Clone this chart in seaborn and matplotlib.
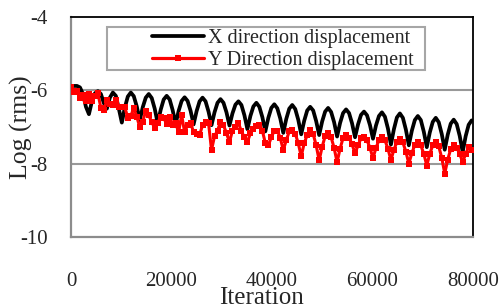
import numpy as np
import pandas as pd
import seaborn as sns
import matplotlib.pyplot as plt
from matplotlib.patches import Rectangle

# sampled iterations (one point every 595 iterations)
iteration = np.arange(0, 80000, 595)

x_disp = [
    -5.90, -5.88, -5.88, -5.92, -6.10, -6.45, -6.65, -6.30, -6.08, -6.02, -6.10, -6.35,
    -6.50, -6.20, -6.06, -6.15, -6.50, -6.88,
    -6.47, -6.17, -6.06, -6.16, -6.44, -6.82,
    -6.46, -6.20, -6.10, -6.21, -6.50, -6.90,
    -6.53, -6.25, -6.15, -6.25, -6.54, -6.92,
    -6.56, -6.29, -6.19, -6.29, -6.56, -6.93,
    -6.57, -6.30, -6.20, -6.30, -6.58, -6.95,
    -6.60, -6.34, -6.24, -6.34, -6.60, -6.96,
    -6.63, -6.39, -6.30, -6.40, -6.68, -7.06,
    -6.70, -6.44, -6.34, -6.45, -6.73, -7.12,
    -6.75, -6.48, -6.38, -6.49, -6.77, -7.16,
    -6.78, -6.50, -6.40, -6.51, -6.80, -7.20,
    -6.83, -6.55, -6.45, -6.55, -6.84, -7.22,
    -6.85, -6.58, -6.48, -6.59, -6.87, -7.26,
    -6.89, -6.62, -6.52, -6.62, -6.90, -7.28,
    -6.93, -6.67, -6.58, -6.68, -6.95, -7.32,
    -6.96, -6.70, -6.60, -6.72, -7.04, -7.48,
    -7.06, -6.74, -6.63, -6.75, -7.07, -7.50,
    -7.10, -6.81, -6.70, -6.81, -7.13, -7.55,
    -7.15, -6.86, -6.75, -6.87, -7.19, -7.62,
    -7.21, -6.91, -6.80, -6.92, -7.24, -7.68,
    -7.25, -6.94, -6.82,
]

y_disp = [
    -5.92, -6.05, -6.02, -6.22, -6.12, -6.30, -6.10, -6.30, -6.15, -6.08, -6.48, -6.53,
    -6.27, -6.37, -6.40, -6.25, -6.45, -6.45,
    -6.46, -6.75, -6.70, -6.48, -6.72, -7.00, -6.86, -6.55, -6.68, -6.86, -7.03, -6.89,
    -6.72, -6.75, -6.92, -6.72, -6.94, -6.90,
    -7.14, -6.67, -7.14, -6.95, -6.89, -7.14, -7.20, -7.22, -6.95, -6.86, -6.89, -7.63,
    -7.25, -7.10, -6.86, -6.95, -7.17, -7.41,
    -7.10, -7.00, -6.89, -7.12, -7.28, -7.41, -7.17, -7.05, -6.98, -6.94, -7.10, -7.44,
    -7.50, -7.28, -7.10, -7.10, -7.30, -7.63,
    -7.36, -7.12, -7.08, -7.18, -7.44, -7.80,
    -7.44, -7.22, -7.08, -7.19, -7.50, -7.91,
    -7.54, -7.25, -7.17, -7.28, -7.57, -7.96,
    -7.59, -7.30, -7.22, -7.29, -7.47, -7.72,
    -7.50, -7.31, -7.28, -7.36, -7.57, -7.85,
    -7.57, -7.36, -7.28, -7.36, -7.59, -7.90,
    -7.62, -7.41, -7.33, -7.42, -7.67, -8.00,
    -7.71, -7.49, -7.41, -7.50, -7.73, -8.05,
    -7.73, -7.50, -7.41, -7.53, -7.84, -8.27,
    -7.89, -7.60, -7.50, -7.56, -7.73, -7.96,
    -7.73, -7.55, -7.62,
]

df = pd.DataFrame({"Iteration": iteration, "X": x_disp, "Y": y_disp})

sns.set_style("white")
plt.rcParams["font.family"] = ["Liberation Serif", "DejaVu Serif"]
plt.rcParams["axes.unicode_minus"] = False

fig = plt.figure(figsize=(5.02, 3.06), dpi=100)
ax = fig.add_axes([71 / 502, 1 - 237 / 306, 402 / 502, 220 / 306])

sns.lineplot(data=df, x="Iteration", y="X", ax=ax, color="black", linewidth=2.7,
             label="X direction displacement", zorder=3)
sns.lineplot(data=df, x="Iteration", y="Y", ax=ax, color="#ff0000", linewidth=2.2,
             marker="s", markersize=4.4, markeredgewidth=0,
             label="Y Direction displacement", zorder=4)

ax.set_xlim(0, 80000)
ax.set_ylim(-10, -4)
ax.set_xticks([0, 20000, 40000, 60000, 80000])
ax.set_yticks([-10, -8, -6, -4])
ax.tick_params(axis="both", length=0, labelsize=15)
ax.tick_params(axis="y", pad=17)
ax.tick_params(axis="x", pad=25)

# horizontal gridlines
for v in [-8, -6]:
    ax.axhline(v, color="#999999", linewidth=1.5, zorder=1)

for side in ["left", "bottom"]:
    ax.spines[side].set_color("#8c8c8c")
    ax.spines[side].set_linewidth(1.6)
for side in ["top", "right"]:
    ax.spines[side].set_color("black")
    ax.spines[side].set_linewidth(1.3)

ax.set_xlabel("Iteration", fontsize=18)
ax.set_ylabel("Log (rms)", fontsize=18.5)
ax.xaxis.set_label_coords(0.4726, -0.225)
ax.yaxis.set_label_coords(-0.095, 0.5)
ax.xaxis.label.set_va("top")

# legend frame
ax.add_patch(Rectangle((0.0896, 0.759), 0.791, 0.1955, transform=ax.transAxes,
                       facecolor="white", edgecolor="#a6a6a6", linewidth=1.5, zorder=5))
leg = ax.legend(loc="center left", bbox_to_anchor=(0.176, 0.852), frameon=False,
                fontsize=14.5, borderpad=0, handlelength=2.6, handletextpad=0.2,
                labelspacing=0.18, numpoints=1)
leg.set_zorder(6)
for h in leg.legend_handles:
    h.set_linewidth(2.7 if h.get_color() == "black" else 2.3)

fig.savefig("out.png", dpi=100)
